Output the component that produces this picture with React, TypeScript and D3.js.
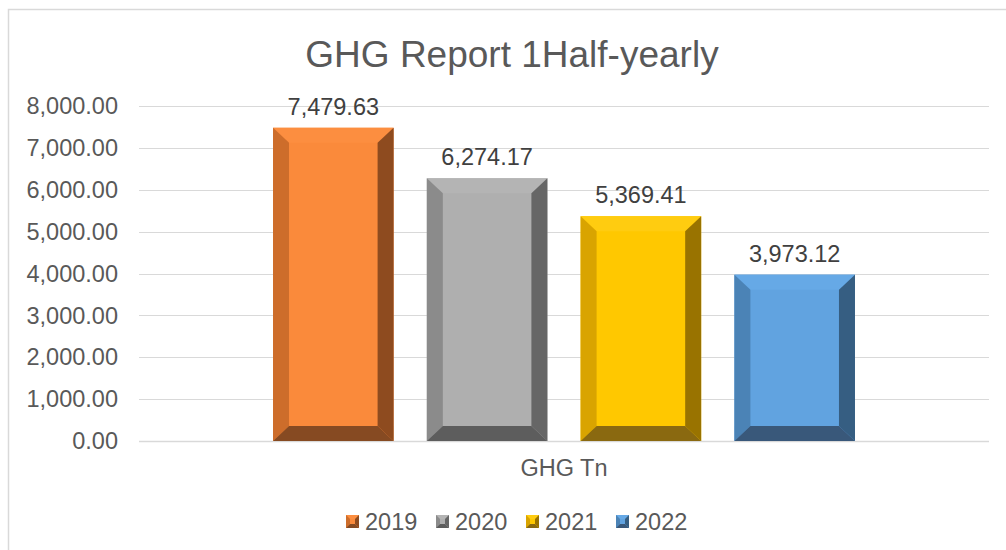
import { useEffect, useRef } from "react";
import * as d3 from "d3";

const categories = ["GHG Tn"];
const seriesNames = ["2019", "2020", "2021", "2022"];
const seriesValues = [7479.63, 6274.17, 5369.41, 3973.12];
const yTicks = [0, 1000, 2000, 3000, 4000, 5000, 6000, 7000, 8000];
const title = "GHG Report 1Half-yearly";

// front, top, left, right, bottom
const palette = [
  ["#fa8a3b", "#fc8e40", "#cd6d2b", "#8e4b1f", "#864a22"],
  ["#afafaf", "#b4b4b4", "#8b8b8b", "#666666", "#5d5d5d"],
  ["#ffc800", "#ffcc10", "#d9a400", "#997300", "#8a6910"],
  ["#61a3e0", "#66a9e6", "#4b83b6", "#365e82", "#39587a"],
];

export default function App() {
  const svgRef = useRef(null);

  useEffect(() => {
    const width = 1006;
    const height = 550;
    const plot = { left: 139, right: 989, top: 106, bottom: 441 };
    const font = "'Liberation Sans', Arial, sans-serif";
    const textColor = "#595959";

    const svg = d3.select(svgRef.current);
    svg.selectAll("*").remove();
    svg.attr("width", width).attr("height", height);

    svg.append("rect")
      .attr("x", 8.5).attr("y", 9.5)
      .attr("width", 1100).attr("height", 700)
      .attr("fill", "white")
      .attr("stroke", "#d9d9d9")
      .attr("stroke-width", 1.5);

    const y = d3.scaleLinear().domain([0, 8000]).range([plot.bottom, plot.top]);
    const x0 = d3.scaleBand().domain(categories).range([plot.left, plot.right]).padding(0.1872);
    const x1 = d3.scaleBand().domain(seriesNames).range([0, x0.bandwidth()]).paddingInner(0.216);

    // gridlines
    svg.append("g")
      .selectAll("line")
      .data(yTicks)
      .join("line")
      .attr("x1", plot.left).attr("x2", plot.right)
      .attr("y1", d => Math.round(y(d)) + 0.5)
      .attr("y2", d => Math.round(y(d)) + 0.5)
      .attr("stroke", "#d9d9d9")
      .attr("stroke-width", d => (d === 0 ? 1.5 : 1));

    const fmt = d3.format(",.2f");

    svg.append("g")
      .selectAll("text")
      .data(yTicks)
      .join("text")
      .attr("x", 118)
      .attr("y", d => y(d))
      .attr("dy", "0.35em")
      .attr("text-anchor", "end")
      .attr("font-family", font)
      .attr("font-size", 23.5)
      .attr("fill", textColor)
      .text(d => fmt(d));

    svg.append("text")
      .attr("x", (x0(categories[0]) ?? 0) + x0.bandwidth() / 2)
      .attr("y", 476)
      .attr("text-anchor", "middle")
      .attr("font-family", font)
      .attr("font-size", 23.5)
      .attr("fill", textColor)
      .text(categories[0]);

    svg.append("text")
      .attr("x", 512)
      .attr("y", 67)
      .attr("text-anchor", "middle")
      .attr("font-family", font)
      .attr("font-size", 37)
      .attr("fill", textColor)
      .text(title);

    const bevel = (g: any, xl: number, yt: number, w: number, h: number, c: string[], b: number, by: number) => {
      const xr = xl + w, yb = yt + h;
      g.append("rect").attr("x", xl).attr("y", yt).attr("width", w).attr("height", h).attr("fill", c[0]);
      const poly = (pts: number[][], fill: string) =>
        g.append("polygon").attr("points", pts.map(p => p.join(",")).join(" ")).attr("fill", fill);
      poly([[xl, yt], [xr, yt], [xr - b, yt + by], [xl + b, yt + by]], c[1]);
      poly([[xl, yt], [xl + b, yt + by], [xl + b, yb - by], [xl, yb]], c[2]);
      poly([[xr, yt], [xr, yb], [xr - b, yb - by], [xr - b, yt + by]], c[3]);
      poly([[xl, yb], [xl + b, yb - by], [xr - b, yb - by], [xr, yb]], c[4]);
    };

    const bars = svg.append("g").attr("transform", `translate(${x0(categories[0])},0)`);
    seriesValues.forEach((v, i) => {
      const bx = x1(seriesNames[i]) ?? 0;
      bevel(bars, bx, y(v), x1.bandwidth(), y(0) - y(v), palette[i], 16, 15);
      bars.append("text")
        .attr("x", bx + x1.bandwidth() / 2)
        .attr("y", y(v) - 13)
        .attr("text-anchor", "middle")
        .attr("font-family", font)
        .attr("font-size", 23.5)
        .attr("fill", "#404040")
        .text(fmt(v));
    });

    // legend
    const legend = svg.append("g");
    seriesNames.forEach((name, i) => {
      const lx = 346 + i * 90;
      const ly = 515;
      bevel(legend, lx, ly, 13, 13, palette[i], 4, 4);
      legend.append("text")
        .attr("x", lx + 19)
        .attr("y", 530)
        .attr("font-family", font)
        .attr("font-size", 23.5)
        .attr("fill", textColor)
        .text(name);
    });
  }, []);

  return (
    <svg ref={svgRef} style={{ position: "absolute", left: 0, top: 0 }}></svg>
  );
}
